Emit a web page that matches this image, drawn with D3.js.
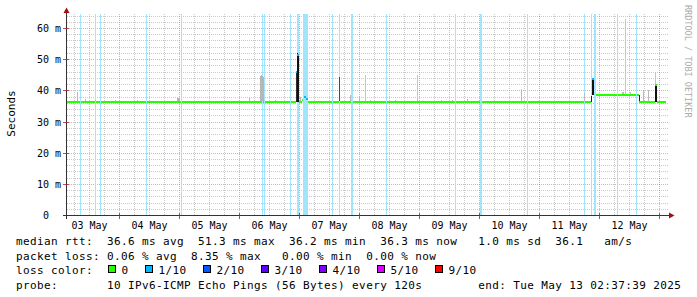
<!DOCTYPE html>
<html>
<head>
<meta charset="utf-8">
<script src="https://cdn.jsdelivr.net/npm/d3@7"></script>
<style>
body { margin: 0; background: #fff; }
svg { display: block; }
text { font-family: "DejaVu Sans Mono", monospace; fill: #000; }
</style>
</head>
<body>
<script>
let parseTime = d3.timeParse("%Y-%m-%d %H:%M");

let startTime = "2025-05-03 02:37";
let endTime = "2025-05-13 02:37";

let yTicks = [0, 10, 20, 30, 40, 50, 60];

// times with 1/10 packet loss
let lossTimes = [
  "2025-05-03 08:25", "2025-05-03 14:25", "2025-05-03 16:25", "2025-05-04 10:49",
  "2025-05-05 00:49", "2025-05-06 09:13", "2025-05-06 10:01", "2025-05-06 20:25",
  "2025-05-06 23:13", "2025-05-06 23:37", "2025-05-07 01:37", "2025-05-07 02:01",
  "2025-05-07 02:25", "2025-05-07 02:49", "2025-05-07 03:13", "2025-05-07 13:13",
  "2025-05-07 16:01", "2025-05-07 20:49", "2025-05-07 21:13", "2025-05-08 10:49",
  "2025-05-09 14:25", "2025-05-10 00:25", "2025-05-10 00:49", "2025-05-10 19:13",
  "2025-05-11 18:01", "2025-05-11 20:49", "2025-05-11 22:01", "2025-05-11 22:25",
  "2025-05-12 07:13", "2025-05-12 14:49"
];

// smoke: time, low (ms), high (ms), density 0..1
let smoke = [
  ["2025-05-03 07:13", 36.3, 39.6, 0.1],
  ["2025-05-03 10:25", 36.3, 37.2, 0.1],
  ["2025-05-03 14:25", 36.3, 37.0, 0.1],
  ["2025-05-03 22:25", 36.3, 37.0, 0.1],
  ["2025-05-04 07:13", 36.3, 36.9, 0.1],
  ["2025-05-04 23:13", 36.3, 37.4, 0.1],
  ["2025-05-04 23:37", 36.3, 37.6, 0.15],
  ["2025-05-05 00:01", 36.3, 37.2, 0.1],
  ["2025-05-06 04:01", 36.3, 37.4, 0.1],
  ["2025-05-06 08:25", 36.3, 44.6, 0.12],
  ["2025-05-06 08:49", 36.3, 44.8, 0.12],
  ["2025-05-06 09:13", 36.3, 44.6, 0.12],
  ["2025-05-06 09:37", 36.3, 44.2, 0.12],
  ["2025-05-06 14:25", 36.3, 37.0, 0.1],
  ["2025-05-06 22:49", 36.3, 45.8, 0.85],
  ["2025-05-06 23:13", 36.3, 52.0, 1],
  ["2025-05-06 23:37", 36.3, 51.8, 1],
  ["2025-05-07 00:25", 36.3, 38.0, 0.15],
  ["2025-05-07 16:01", 36.3, 44.3, 0.7],
  ["2025-05-07 20:25", 36.3, 38.5, 0.1],
  ["2025-05-08 00:01", 36.3, 38.2, 0.1],
  ["2025-05-08 02:25", 36.3, 45.0, 0.05],
  ["2025-05-08 04:25", 36.3, 37.0, 0.1],
  ["2025-05-08 14:25", 36.3, 37.0, 0.1],
  ["2025-05-08 23:13", 36.3, 45.0, 0.05],
  ["2025-05-09 08:49", 36.3, 37.0, 0.1],
  ["2025-05-09 13:13", 36.3, 37.0, 0.1],
  ["2025-05-09 19:13", 36.3, 37.2, 0.1],
  ["2025-05-10 16:49", 36.3, 40.3, 0.1],
  ["2025-05-11 18:01", 36.3, 39.0, 0.1],
  ["2025-05-11 20:49", 36.3, 38.6, 0.9],
  ["2025-05-11 21:13", 38.6, 43.8, 1],
  ["2025-05-11 21:37", 38.6, 43.8, 1],
  ["2025-05-12 09:13", 38.6, 39.6, 0.1],
  ["2025-05-12 09:37", 38.6, 39.4, 0.1],
  ["2025-05-12 10:25", 38.6, 62.8, 0.03],
  ["2025-05-12 12:25", 38.6, 39.5, 0.1],
  ["2025-05-12 16:01", 36.3, 38.6, 0.9],
  ["2025-05-12 17:37", 36.3, 40.1, 0.1],
  ["2025-05-12 19:37", 36.3, 40.1, 0.1],
  ["2025-05-12 22:25", 41.7, 46.0, 0.05],
  ["2025-05-12 22:25", 36.3, 41.7, 1],
  ["2025-05-12 22:49", 36.3, 41.7, 1]
];

// median rtt steps: time, value (ms), loss index
let median = [
  ["2025-05-03 02:37", 36.3, 0],
  ["2025-05-06 22:49", 45.8, 1],
  ["2025-05-06 23:13", 51.3, 1],
  ["2025-05-07 00:01", 36.3, 0],
  ["2025-05-07 01:13", 37.0, 0],
  ["2025-05-07 02:01", 37.8, 1],
  ["2025-05-07 02:49", 37.2, 1],
  ["2025-05-07 03:37", 36.3, 0],
  ["2025-05-11 20:49", 38.4, 0],
  ["2025-05-11 21:13", 43.8, 1],
  ["2025-05-11 22:01", 38.6, 0],
  ["2025-05-12 16:01", 36.3, 0],
  ["2025-05-12 22:25", 41.7, 0],
  ["2025-05-12 23:13", 36.3, 0]
];

let lossLabels = ["0", "1/10", "2/10", "3/10", "4/10", "5/10", "9/10"];
let lossColors = ["#26ff00", "#00b8ff", "#0059ff", "#5e00ff", "#7e00ff", "#dd00ff", "#ff0000"];

let statLines = [
  "median rtt:  36.6 ms avg  51.3 ms max  36.2 ms min  36.3 ms now   1.0 ms sd  36.1   am/s",
  "packet loss: 0.06 % avg  8.35 % max   0.00 % min  0.00 % now",
  "loss color:",
  "probe:       10 IPv6-ICMP Echo Pings (56 Bytes) every 120s        end: Tue May 13 02:37:39 2025"
];

const svgWidth = 697;
const svgHeight = 297;
const lossPale = "#a1e5fd";

const svg = d3.select("body")
  .append("svg")
  .attr("width", svgWidth)
  .attr("height", svgHeight);

const t0 = parseTime(startTime);
const t1 = parseTime(endTime);

const x = d3.scaleTime().domain([t0, t1]).range([66, 666]);
const y = d3.scaleLinear().domain([0, 64.5]).range([215, 14]);
const grey = d3.scaleLinear().domain([0, 1]).range(["#cdcdcd", "#111111"]);

function px(t) { return Math.floor(x(t)); }
function py(v) { return Math.round(y(v)); }

// grid
const grid = svg.append("g")
  .attr("shape-rendering", "crispEdges")
  .attr("stroke-dasharray", "1,1")
  .attr("fill", "none");

const hMinor = d3.range(2, 64.5, 2).filter(function(v) { return v % 10 !== 0; });
grid.selectAll(".hminor")
  .data(hMinor)
  .enter()
  .append("line")
  .attr("x1", 67).attr("x2", 668)
  .attr("y1", function(d) { return py(d) + 0.5; })
  .attr("y2", function(d) { return py(d) + 0.5; })
  .attr("stroke", "rgba(150,150,150,0.5)");

const vMinor = d3.timeHour.every(6).range(t0, t1).filter(function(d) { return d.getHours() !== 0; });
grid.selectAll(".vminor")
  .data(vMinor)
  .enter()
  .append("line")
  .attr("x1", function(d) { return px(d) + 0.5; })
  .attr("x2", function(d) { return px(d) + 0.5; })
  .attr("y1", 14).attr("y2", 215)
  .attr("stroke", "rgba(150,150,150,0.5)");

grid.selectAll(".hmajor")
  .data(yTicks.filter(function(d) { return d > 0; }))
  .enter()
  .append("line")
  .attr("x1", 67).attr("x2", 668)
  .attr("y1", function(d) { return py(d) + 0.5; })
  .attr("y2", function(d) { return py(d) + 0.5; })
  .attr("stroke", "rgba(210,90,90,0.5)");

const days = d3.timeDay.range(t0, t1);
grid.selectAll(".vmajor")
  .data(days)
  .enter()
  .append("line")
  .attr("x1", function(d) { return px(d) + 0.5; })
  .attr("x2", function(d) { return px(d) + 0.5; })
  .attr("y1", 14).attr("y2", 215)
  .attr("stroke", "rgba(210,90,90,0.5)");

// loss bars
const plot = svg.append("g").attr("shape-rendering", "crispEdges");

plot.selectAll(".loss")
  .data(lossTimes)
  .enter()
  .append("rect")
  .attr("x", function(d) { return px(parseTime(d)); })
  .attr("y", 14)
  .attr("width", 1)
  .attr("height", 201)
  .attr("fill", lossPale);

// smoke
plot.selectAll(".smoke")
  .data(smoke)
  .enter()
  .append("rect")
  .attr("x", function(d) { return px(parseTime(d[0])); })
  .attr("y", function(d) { return py(d[2]); })
  .attr("width", 1)
  .attr("height", function(d) { return Math.max(1, py(d[1]) - py(d[2])); })
  .attr("fill", function(d) { return grey(d[3]); });

// median line, one flat segment per step
plot.selectAll(".median")
  .data(median)
  .enter()
  .append("rect")
  .attr("x", function(d) { return px(parseTime(d[0])); })
  .attr("y", function(d) { return py(d[1]) - 1; })
  .attr("width", function(d, i) {
    let next = i < median.length - 1 ? parseTime(median[i + 1][0]) : t1;
    return Math.max(1, px(next) - px(parseTime(d[0])));
  })
  .attr("height", 2)
  .attr("fill", function(d) { return lossColors[d[2]]; });

function medianAt(t) {
  let m = median[0];
  median.forEach(function(d) { if (parseTime(d[0]) <= t) m = d; });
  return m;
}

// loss bars show through the green median
plot.selectAll(".lossover")
  .data(lossTimes.filter(function(d) { return medianAt(parseTime(d))[2] === 0; }))
  .enter()
  .append("rect")
  .attr("x", function(d) { return px(parseTime(d)); })
  .attr("y", function(d) { return py(medianAt(parseTime(d))[1]) - 1; })
  .attr("width", 1)
  .attr("height", 2)
  .attr("fill", lossPale);

// axes
const axes = svg.append("g").attr("shape-rendering", "crispEdges");
axes.append("line")
  .attr("x1", 63).attr("x2", 670).attr("y1", 215.5).attr("y2", 215.5)
  .attr("stroke", "#333");
axes.append("line")
  .attr("x1", 66.5).attr("x2", 66.5).attr("y1", 219).attr("y2", 12)
  .attr("stroke", "#333");

axes.selectAll(".xtick")
  .data(days)
  .enter()
  .append("line")
  .attr("x1", function(d) { return px(d) + 0.5; })
  .attr("x2", function(d) { return px(d) + 0.5; })
  .attr("y1", 213).attr("y2", 219)
  .attr("stroke", "rgba(160,40,40,0.8)");

axes.selectAll(".ytick")
  .data(yTicks.filter(function(d) { return d > 0; }))
  .enter()
  .append("line")
  .attr("x1", 63).attr("x2", 69)
  .attr("y1", function(d) { return py(d) + 0.5; })
  .attr("y2", function(d) { return py(d) + 0.5; })
  .attr("stroke", "rgba(160,40,40,0.8)");

svg.append("path")
  .attr("d", "M63.5,13 L66.5,7.5 L69.5,13 Z")
  .attr("fill", "#a01010");
svg.append("path")
  .attr("d", "M669,212.5 L674.5,215.5 L669,218.5 Z")
  .attr("fill", "#a01010");

// axis labels
svg.selectAll(".ylabel")
  .data(yTicks)
  .enter()
  .append("text")
  .attr("x", 61)
  .attr("y", function(d) { return py(d) + 4; })
  .attr("text-anchor", "end")
  .attr("font-size", "10px")
  .text(function(d) { return d === 0 ? "0\u00a0\u00a0" : d + " m"; });

const noons = days.concat([d3.timeDay.floor(t0)])
  .map(function(d) { return d3.timeHour.offset(d, 12); })
  .filter(function(d) { return d > t0 && d < t1; })
  .sort(function(a, b) { return a - b; });

svg.selectAll(".xlabel")
  .data(noons)
  .enter()
  .append("text")
  .attr("x", function(d) { return x(d); })
  .attr("y", 228.5)
  .attr("text-anchor", "middle")
  .attr("font-size", "10px")
  .text(function(d) { return d3.timeFormat("%d %b")(d); });

svg.append("text")
  .attr("transform", "translate(14.5,113.5) rotate(-90)")
  .attr("text-anchor", "middle")
  .attr("font-size", "11px")
  .text("Seconds");

svg.append("text")
  .attr("transform", "translate(684.5,5) rotate(90)")
  .attr("font-size", "8.5px")
  .style("fill", "#aaa")
  .text("RRDTOOL / TOBI OETIKER");

// legend lines
let lineY = [245, 259.5, 274, 288.5];
svg.selectAll(".stat")
  .data(statLines)
  .enter()
  .append("text")
  .attr("x", 16)
  .attr("y", function(d, i) { return lineY[i]; })
  .attr("font-size", "11px")
  .attr("letter-spacing", "0.38px")
  .style("white-space", "pre")
  .text(function(d) { return d; });

let boxX = [];
let bx = 108;
lossLabels.forEach(function(l) {
  boxX.push(bx);
  bx = bx + 13.5 + l.length * 7 + 16.5;
});

const legend = svg.selectAll(".lossitem")
  .data(lossLabels)
  .enter()
  .append("g");

legend.append("rect")
  .attr("x", function(d, i) { return Math.round(boxX[i]) + 0.5; })
  .attr("y", 265.5)
  .attr("width", 7)
  .attr("height", 7)
  .attr("shape-rendering", "crispEdges")
  .attr("stroke", "#000")
  .attr("fill", function(d, i) { return lossColors[i]; });

legend.append("text")
  .attr("x", function(d, i) { return boxX[i] + 13.5; })
  .attr("y", 274)
  .attr("font-size", "11px")
  .attr("letter-spacing", "0.38px")
  .text(function(d) { return d; });
</script>
</body>
</html>
